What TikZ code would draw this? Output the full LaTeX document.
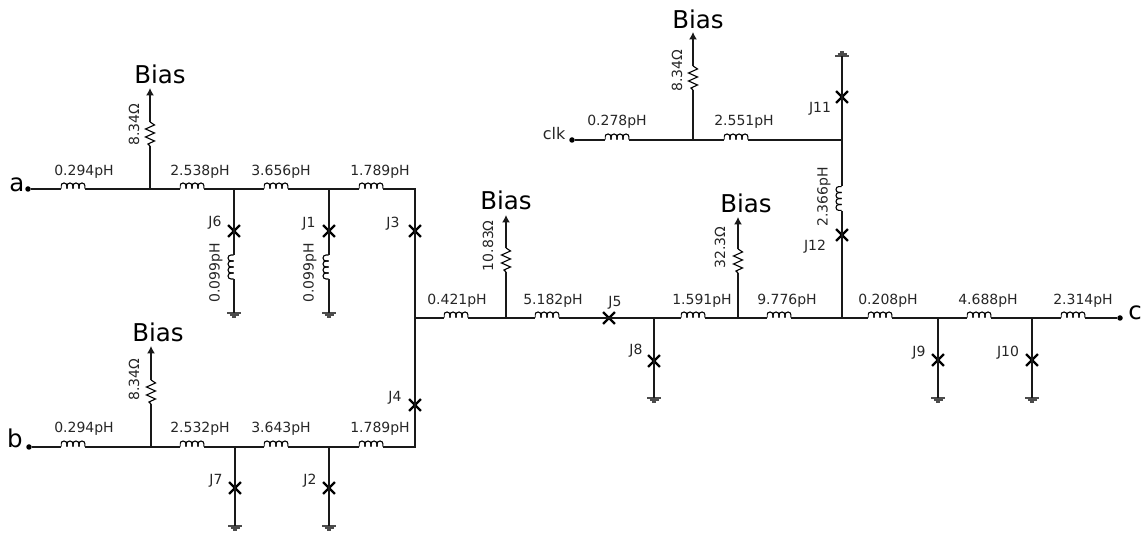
\documentclass[tikz,border=0pt]{standalone}
\usepackage{fontspec}
\setmainfont{DejaVu Sans}
\usetikzlibrary{shapes.misc}
\usetikzlibrary{arrows.meta}
\tikzset{
    wire/.style = {line width = 1.3pt, black!90},
    bias/.style = {wire, -{Latex[length = 7.5pt, width = 8pt]}},
    dot/.style = {circle, fill = black, inner sep = 0pt, minimum size = 5.5pt},
    coilh/.style = {inner sep = 0pt, minimum width = 24.5pt, minimum height = 18pt,
        path picture = {\begin{scope}[shift = {(path picture bounding box.center)}]
            \foreach \i in {-12, -6, 0, 6} {
                \draw[line width = 1.1pt] (\i, 0.4) -- (\i, 3) arc (180:0:3) -- (\i + 6, 0.4);
            }
        \end{scope}}},
    coilv/.style = {inner sep = 0pt, minimum width = 18pt, minimum height = 24.5pt,
        path picture = {\begin{scope}[shift = {(path picture bounding box.center)}]
            \foreach \i in {-12, -6, 0, 6} {
                \draw[line width = 1.1pt] (-0.4, \i) -- (-3, \i) arc (-90:-270:3) -- (-0.4, \i + 6);
            }
        \end{scope}}},
    res/.style = {inner sep = 0pt, minimum width = 14pt, minimum height = 24pt,
        path picture = {\draw[line width = 1.1pt, shift = {(path picture bounding box.center)}]
            (0, 12) -- (4.5, 9) -- (-4.5, 5) -- (4.5, 1) -- (-4.5, -3) -- (4.5, -7) -- (-2, -10) -- (0, -12);}},
    jj/.style = {cross out, draw, black, line width = 2.3pt, inner sep = 0pt, minimum size = 9.5pt},
    gnd/.style = {inner sep = 0pt, minimum width = 16pt, minimum height = 14pt,
        path picture = {\begin{scope}[shift = {(path picture bounding box.center)}, line width = 1.1pt, black!70]
            \draw (-7, 0) -- (7, 0); \draw (-4.5, -2) -- (4.5, -2); \draw (-2, -4) -- (2, -4);
        \end{scope}}},
    gndup/.style = {inner sep = 0pt, minimum width = 16pt, minimum height = 14pt,
        path picture = {\begin{scope}[shift = {(path picture bounding box.center)}, line width = 1.1pt, black!70]
            \draw (-7, 0) -- (7, 0); \draw (-4.5, 2) -- (4.5, 2); \draw (-2, 4) -- (2, 4);
        \end{scope}}},
    lbl/.style = {font = \fontsize{14pt}{16pt}\selectfont, text = black!85, inner sep = 0pt, yshift = -0.7pt},
    lblr/.style = {lbl, rotate = 90},
    big/.style = {font = \fontsize{24.5pt}{28pt}\selectfont, inner sep = 0pt}
}
\begin{document}
\begin{tikzpicture}[x = 1pt, y = 1pt]
        \useasboundingbox (0, 0) rectangle (1143, 534);

        % input a
        \node (a) [dot] at (28, 345) {};
        \node (La1) [coilh, right of = a, node distance = 45pt] {};
        \node (ta1) [coordinate, right of = a, node distance = 122pt] {};
        \node (La2) [coilh, right of = a, node distance = 164pt] {};
        \node (ta2) [coordinate, right of = a, node distance = 206pt] {};
        \node (La3) [coilh, right of = a, node distance = 248pt] {};
        \node (ta3) [coordinate, right of = a, node distance = 301pt] {};
        \node (La4) [coilh, right of = a, node distance = 343pt] {};
        \node (ca) [coordinate, right of = a, node distance = 387pt] {};

        \node (Ra) [res, above of = ta1, node distance = 55pt] {};
        \node (ba) [coordinate, above of = ta1, node distance = 101pt] {};
        \node (J6) [jj, below of = ta2, node distance = 42pt] {};
        \node (La5) [coilv, below of = ta2, node distance = 78pt] {};
        \node (ga5) [gnd, below of = ta2, node distance = 124pt] {};
        \node (J1) [jj, below of = ta3, node distance = 42pt] {};
        \node (La6) [coilv, below of = ta3, node distance = 78pt] {};
        \node (ga6) [gnd, below of = ta3, node distance = 124pt] {};
        \node (J3) [jj, below of = ca, node distance = 42pt] {};

        % input b
        \node (b) [dot] at (29, 87) {};
        \node (Lb1) [coilh, right of = b, node distance = 44pt] {};
        \node (tb1) [coordinate, right of = b, node distance = 122pt] {};
        \node (Lb2) [coilh, right of = b, node distance = 163pt] {};
        \node (tb2) [coordinate, right of = b, node distance = 206pt] {};
        \node (Lb3) [coilh, right of = b, node distance = 247pt] {};
        \node (tb3) [coordinate, right of = b, node distance = 300pt] {};
        \node (Lb4) [coilh, right of = b, node distance = 342pt] {};
        \node (cb) [coordinate, right of = b, node distance = 386pt] {};

        \node (Rb) [res, above of = tb1, node distance = 55pt] {};
        \node (bb) [coordinate, above of = tb1, node distance = 101pt] {};
        \node (J7) [jj, below of = tb2, node distance = 41pt] {};
        \node (gb7) [gnd, below of = tb2, node distance = 79pt] {};
        \node (J2) [jj, below of = tb3, node distance = 41pt] {};
        \node (gb2) [gnd, below of = tb3, node distance = 79pt] {};
        \node (J4) [jj, above of = cb, node distance = 42pt] {};

        % middle row
        \node (m) [coordinate] at (415, 216) {};
        \node (Lm1) [coilh, right of = m, node distance = 41pt] {};
        \node (tm1) [coordinate, right of = m, node distance = 91pt] {};
        \node (Lm2) [coilh, right of = m, node distance = 132pt] {};
        \node (J5) [jj, right of = m, node distance = 194pt] {};
        \node (tm2) [coordinate, right of = m, node distance = 239pt] {};
        \node (Lm3) [coilh, right of = m, node distance = 278pt] {};
        \node (tm3) [coordinate, right of = m, node distance = 323pt] {};
        \node (Lm4) [coilh, right of = m, node distance = 364pt] {};
        \node (tm4) [coordinate, right of = m, node distance = 427pt] {};
        \node (Lm5) [coilh, right of = m, node distance = 465pt] {};
        \node (tm5) [coordinate, right of = m, node distance = 523pt] {};
        \node (Lm6) [coilh, right of = m, node distance = 564pt] {};
        \node (tm6) [coordinate, right of = m, node distance = 617pt] {};
        \node (Lm7) [coilh, right of = m, node distance = 658pt] {};
        \node (c) [dot, right of = m, node distance = 705pt] {};

        \node (Rm1) [res, above of = tm1, node distance = 58pt] {};
        \node (bm1) [coordinate, above of = tm1, node distance = 103pt] {};
        \node (Rm3) [res, above of = tm3, node distance = 57pt] {};
        \node (bm3) [coordinate, above of = tm3, node distance = 101pt] {};
        \node (J8) [jj, below of = tm2, node distance = 43pt] {};
        \node (g8) [gnd, below of = tm2, node distance = 80pt] {};
        \node (J9) [jj, below of = tm5, node distance = 42pt] {};
        \node (g9) [gnd, below of = tm5, node distance = 80pt] {};
        \node (J10) [jj, below of = tm6, node distance = 42pt] {};
        \node (g10) [gnd, below of = tm6, node distance = 80pt] {};

        % clock branch
        \node (clk) [dot] at (572, 394) {};
        \node (Lc1) [coilh, right of = clk, node distance = 45pt] {};
        \node (tc1) [coordinate, right of = clk, node distance = 121pt] {};
        \node (Lc2) [coilh, right of = clk, node distance = 164pt] {};
        \node (tc2) [coordinate, right of = clk, node distance = 270pt] {};
        \node (Rc) [res, above of = tc1, node distance = 62pt] {};
        \node (bc) [coordinate, above of = tc1, node distance = 108pt] {};
        \node (J11) [jj, above of = tc2, node distance = 43pt] {};
        \node (g11) [gndup, above of = tc2, node distance = 84pt] {};
        \node (Lc3) [coilv, below of = tc2, node distance = 58.5pt] {};
        \node (J12) [jj, below of = tc2, node distance = 95pt] {};

        % wires
        \draw[wire] (a) -- (La1) -- (ta1) -- (La2) -- (ta2) -- (La3) -- (ta3) -- (La4) -- (ca) -- (J3.center) -- (m);
        \draw[wire] (b) -- (Lb1) -- (tb1) -- (Lb2) -- (tb2) -- (Lb3) -- (tb3) -- (Lb4) -- (cb) -- (J4.center) -- (m);
        \draw[wire] (m) -- (Lm1) -- (tm1) -- (Lm2) -- (J5.center) -- (tm2) -- (Lm3) -- (tm3) -- (Lm4) -- (tm4) -- (Lm5) -- (tm5) -- (Lm6) -- (tm6) -- (Lm7) -- (c);
        \draw[wire] (clk) -- (Lc1) -- (tc1) -- (Lc2) -- (tc2);
        \draw[wire] (g11.center) -- (J11.center) -- (tc2) -- (Lc3) -- (J12.center) -- (tm4);

        \draw[wire] (ta2) -- (J6.center) -- (La5) -- (ga5.center);
        \draw[wire] (ta3) -- (J1.center) -- (La6) -- (ga6.center);
        \draw[wire] (tb2) -- (J7.center) -- (gb7.center);
        \draw[wire] (tb3) -- (J2.center) -- (gb2.center);
        \draw[wire] (tm2) -- (J8.center) -- (g8.center);
        \draw[wire] (tm5) -- (J9.center) -- (g9.center);
        \draw[wire] (tm6) -- (J10.center) -- (g10.center);

        \draw[wire] (ta1) -- (Ra);
        \draw[bias] (Ra) -- (ba);
        \draw[wire] (tb1) -- (Rb);
        \draw[bias] (Rb) -- (bb);
        \draw[wire] (tm1) -- (Rm1);
        \draw[bias] (Rm1) -- (bm1);
        \draw[wire] (tm3) -- (Rm3);
        \draw[bias] (Rm3) -- (bm3);
        \draw[wire] (tc1) -- (Rc);
        \draw[bias] (Rc) -- (bc);

        % big labels
        \node (ta) [big] at (17, 349) {a};
        \node (tb) [big] at (15, 96) {b};
        \node (tc) [big] at (1135, 221) {c};
        \node (tBa) [big] at (160, 460) {Bias};
        \node (tBb) [big] at (158, 202) {Bias};
        \node (tBm1) [big] at (506, 334) {Bias};
        \node (tBm3) [big] at (746, 331) {Bias};
        \node (tBc) [big] at (698, 515) {Bias};

        % values
        \node (tLa1) [lbl] at (84, 363) {0.294pH};
        \node (tLa2) [lbl] at (200, 363) {2.538pH};
        \node (tLa3) [lbl] at (281, 363) {3.656pH};
        \node (tLa4) [lbl] at (380, 363) {1.789pH};
        \node (tLb1) [lbl] at (84, 106) {0.294pH};
        \node (tLb2) [lbl] at (200, 106) {2.532pH};
        \node (tLb3) [lbl] at (281, 106) {3.643pH};
        \node (tLb4) [lbl] at (380, 106) {1.789pH};
        \node (tLm1) [lbl] at (457, 234) {0.421pH};
        \node (tLm2) [lbl] at (553, 234) {5.182pH};
        \node (tLm3) [lbl] at (702, 234) {1.591pH};
        \node (tLm4) [lbl] at (787, 234) {9.776pH};
        \node (tLm5) [lbl] at (888, 234) {0.208pH};
        \node (tLm6) [lbl] at (988, 234) {4.688pH};
        \node (tLm7) [lbl] at (1083, 234) {2.314pH};
        \node (tLc1) [lbl] at (617, 413) {0.278pH};
        \node (tLc2) [lbl] at (744, 413) {2.551pH};
        \node (tclk) [lbl, font = \fontsize{16pt}{18pt}\selectfont] at (554, 401) {clk};

        \node (tRa) [lblr] at (134, 410) {8.34Ω};
        \node (tRb) [lblr] at (134, 155) {8.34Ω};
        \node (tRm1) [lblr] at (488, 289) {10.83Ω};
        \node (tRm3) [lblr] at (720, 287) {32.3Ω};
        \node (tRc) [lblr] at (677, 464) {8.34Ω};
        \node (tLa5) [lblr] at (216, 262) {0.099pH};
        \node (tLa6) [lblr] at (310, 262) {0.099pH};
        \node (tLc3) [lblr] at (824, 338) {2.366pH};

        % junctions
        \node (tJ1) [lbl] at (309, 311) {J1};
        \node (tJ2) [lbl] at (310, 54) {J2};
        \node (tJ3) [lbl] at (393, 311) {J3};
        \node (tJ4) [lbl] at (395, 137) {J4};
        \node (tJ5) [lbl] at (615, 232) {J5};
        \node (tJ6) [lbl] at (215, 312) {J6};
        \node (tJ7) [lbl] at (216, 54) {J7};
        \node (tJ8) [lbl] at (636, 184) {J8};
        \node (tJ9) [lbl] at (919, 182) {J9};
        \node (tJ10) [lbl] at (1008, 182) {J10};
        \node (tJ11) [lbl] at (820, 426) {J11};
        \node (tJ12) [lbl] at (815, 288) {J12};
    \end{tikzpicture}
\end{document}
